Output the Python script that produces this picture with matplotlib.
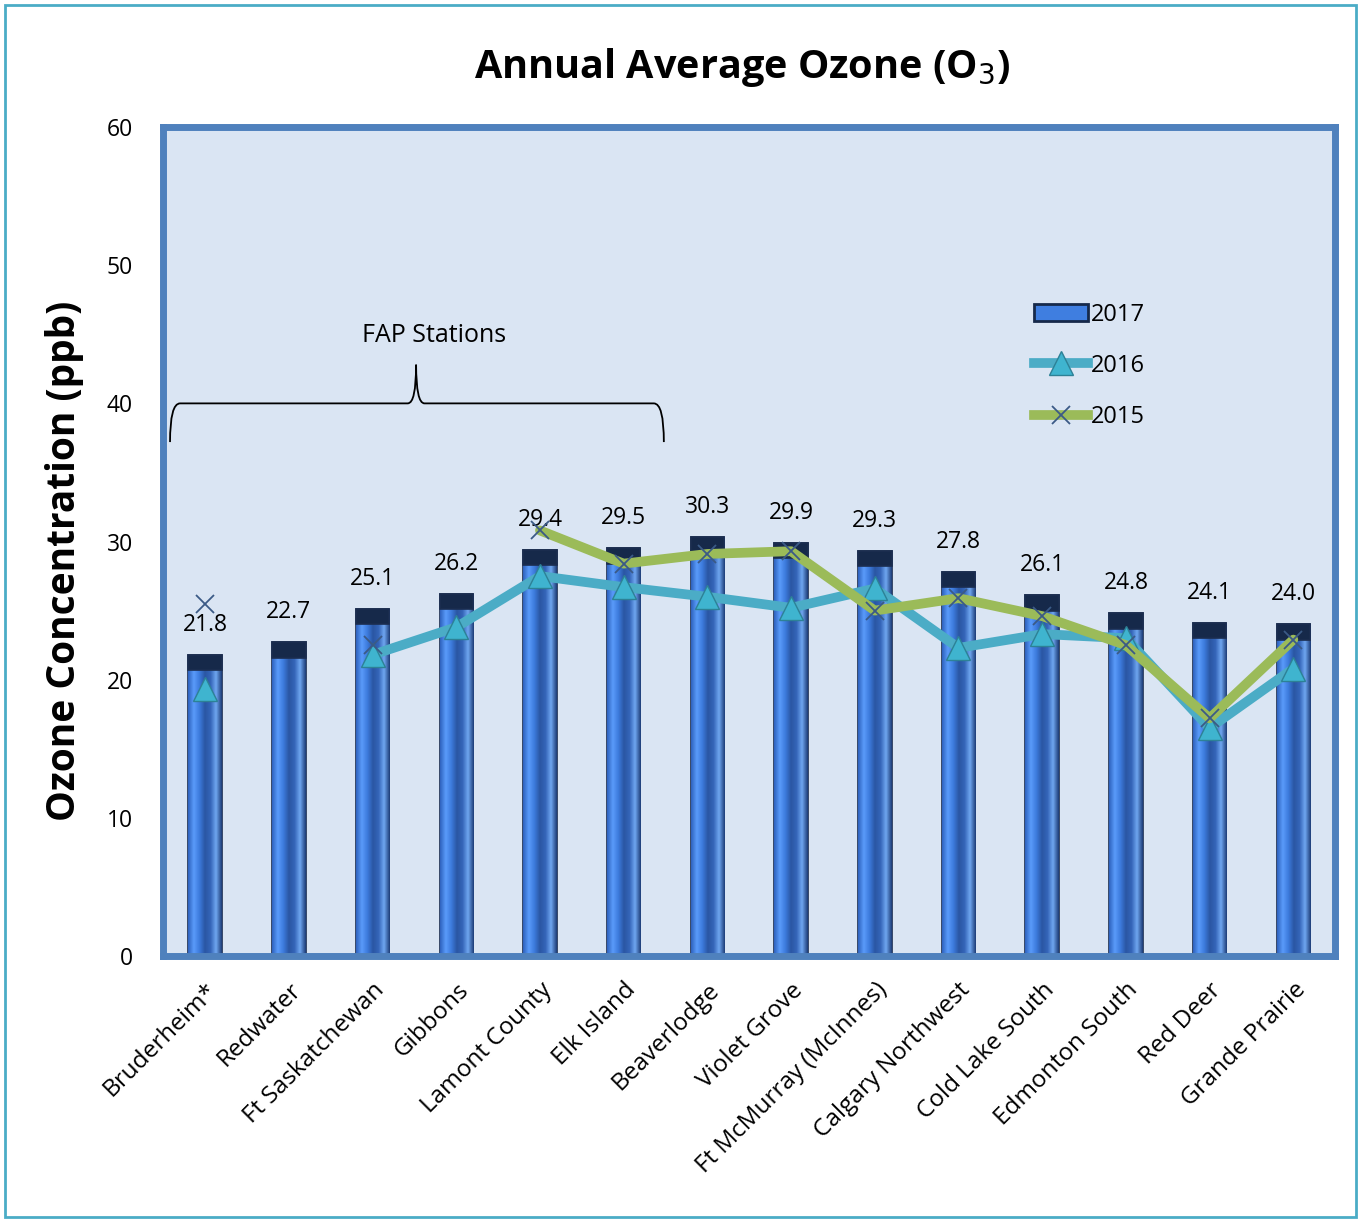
import matplotlib
matplotlib.use("Agg")
import matplotlib.pyplot as plt
import numpy as np
from matplotlib.path import Path
from matplotlib.patches import PathPatch, Rectangle
from matplotlib.colors import LinearSegmentedColormap
from matplotlib.lines import Line2D

plt.rcParams['font.family'] = ['Open Sans', 'DejaVu Sans']

stations = ['Bruderheim*', 'Redwater', 'Ft Saskatchewan', 'Gibbons', 'Lamont County',
            'Elk Island', 'Beaverlodge', 'Violet Grove', 'Ft McMurray (McInnes)',
            'Calgary Northwest', 'Cold Lake South', 'Edmonton South', 'Red Deer',
            'Grande Prairie']
o3_2017 = [21.8, 22.7, 25.1, 26.2, 29.4, 29.5, 30.3, 29.9, 29.3, 27.8, 26.1, 24.8, 24.1, 24.0]
o3_2016 = [19.3, np.nan, 21.8, 23.8, 27.5, 26.7, 26.0, 25.2, 26.6, 22.3, 23.3, 23.0, 16.5, 20.8]
o3_2015 = [25.5, np.nan, 22.5, np.nan, 30.8, 28.4, 29.1, 29.3, 25.0, 25.9, 24.6, 22.5, 17.2, 22.9]

fig = plt.figure(figsize=(13.61, 12.22), dpi=100)
# outer frame
fig.patches.append(Rectangle((0.004, 0.004), 0.992, 0.992, transform=fig.transFigure,
                             fill=False, edgecolor='#4BACC6', lw=2))
ax = fig.add_axes([0.12, 0.2177, 0.861, 0.6783])
ax.set_facecolor('#DAE5F3')

x = np.arange(len(stations))
bw = 0.4
bars = ax.bar(x, o3_2017, width=bw, color='#3F7EE0', edgecolor='#1B2D4F', lw=1.2, zorder=2)

# shaded bars (horizontal gradient)
cmap = LinearSegmentedColormap.from_list('bar', ['#2F63BF', '#5A9BFA', '#3D7BDD', '#2A56A3',
                                                 '#3565B8', '#6FA6F0', '#1F3F7A'])
grad = np.linspace(0, 1, 64).reshape(1, -1)
for b in bars:
    im = ax.imshow(grad, cmap=cmap, aspect='auto', zorder=2.1,
                   extent=[b.get_x(), b.get_x() + b.get_width(), 0, b.get_height()])
    im.set_clip_path(b)
# dark bevel on top
ax.bar(x, [1.1] * len(x), bottom=np.array(o3_2017) - 1.1, width=bw,
       color='#16294A', edgecolor='#1B2D4F', lw=1.2, zorder=2.2)

ax.plot(x, o3_2016, color='#4BACC6', lw=7, marker='^', ms=17, mfc='#3FB4CF',
        mec='#2D8196', solid_capstyle='round', zorder=3)
ax.plot(x, o3_2015, color='#9BBB59', lw=7, marker='x', ms=13, mec='#3B5A86',
        mew=1.3, solid_capstyle='round', zorder=4)

for xi, v in zip(x, o3_2017):
    ax.text(xi, v + 1.3, f'{v:.1f}', ha='center', va='bottom', fontsize=16.5)

# FAP Stations brace
xl, xr, xm = -0.42, 5.48, 2.52
yb, yl, yt = 40.0, 37.2, 42.8
verts = [(xl, yl), (xl, yb), (xl + 0.12, yb), (xm - 0.1, yb), (xm, yb), (xm, yt),
         (xm, yb), (xm + 0.1, yb), (xr - 0.12, yb), (xr, yb), (xr, yl)]
codes = [Path.MOVETO, Path.CURVE3, Path.CURVE3, Path.LINETO, Path.CURVE3, Path.CURVE3,
         Path.CURVE3, Path.CURVE3, Path.LINETO, Path.CURVE3, Path.CURVE3]
ax.add_patch(PathPatch(Path(verts, codes), fill=False, lw=1.3, color='black', zorder=5))
ax.text(2.73, 44.0, 'FAP Stations', ha='center', va='bottom', fontsize=18)

ax.set_xlim(-0.5, 13.5)
ax.set_ylim(0, 60)
ax.set_yticks(range(0, 61, 10))
ax.set_xticks(x)
ax.set_xticklabels(stations, rotation=45, ha='right', rotation_mode='anchor', fontsize=17.5)
ax.tick_params(length=0, pad=16)
ax.tick_params(axis='y', pad=22, labelsize=16.5)
for s in ax.spines.values():
    s.set_color('#4F81BD')
    s.set_linewidth(5)

ax.set_ylabel('Ozone Concentration (ppb)', fontsize=28, fontweight='bold')
ax.yaxis.set_label_coords(-0.068, 0.477)
fig.suptitle('Annual Average Ozone (O$_3$)', fontsize=28.5, fontweight='bold', x=0.545, y=0.962)

handles = [Rectangle((0, 0), 1, 1, facecolor='#3F7EE0', edgecolor='#16294A', lw=2),
           Line2D([], [], color='#4BACC6', lw=7, marker='^', ms=17, mfc='#3FB4CF', mec='#2D8196'),
           Line2D([], [], color='#9BBB59', lw=7, marker='x', ms=13, mec='#3B5A86', mew=1.3)]
ax.legend(handles, ['2017', '2016', '2015'], loc='upper left', bbox_to_anchor=(0.725, 0.814),
          frameon=False, fontsize=17, labelspacing=1.15, handlelength=2.3, handletextpad=0.1)

fig.savefig('out.png', dpi=100)
